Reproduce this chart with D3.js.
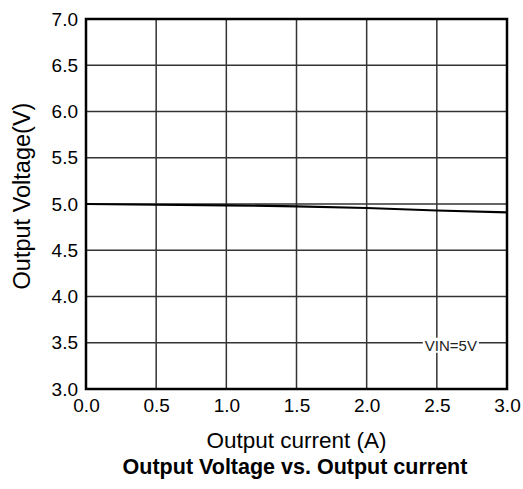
<!DOCTYPE html>
<html><head><meta charset="utf-8">
<script src="https://cdn.jsdelivr.net/npm/d3@7"></script>
<style>body{margin:0;background:#fff}svg{display:block;font-family:"Liberation Sans",Arial,sans-serif}</style>
</head><body>
<script>
const currents = [0.0, 0.5, 1.0, 1.5, 2.0, 2.5, 3.0];
const voltages = [5.0, 4.992, 4.986, 4.975, 4.957, 4.930, 4.910];
const xTicks = [0.0, 0.5, 1.0, 1.5, 2.0, 2.5, 3.0];
const yTicks = [3.0, 3.5, 4.0, 4.5, 5.0, 5.5, 6.0, 6.5, 7.0];
const xTitle = "Output current (A)";
const yTitle = "Output Voltage(V)";
const chartTitle = "Output Voltage vs. Output current";
const annotation = "VIN=5V";

const W = 523, H = 489;
const m = {left: 86, top: 19, right: 16, bottom: 100};
const svg = d3.select("body").append("svg").attr("width", W).attr("height", H);
const x = d3.scaleLinear().domain([0, 3]).range([m.left, W - m.right]);
const y = d3.scaleLinear().domain([3, 7]).range([H - m.bottom, m.top]);

// grid
svg.append("g").selectAll("line").data(xTicks.slice(1, -1)).join("line")
  .attr("x1", d => x(d)).attr("x2", d => x(d)).attr("y1", y(3)).attr("y2", y(7))
  .attr("stroke", "#333").attr("stroke-width", 1.5);
svg.append("g").selectAll("line").data(yTicks.slice(1, -1)).join("line")
  .attr("x1", x(0)).attr("x2", x(3)).attr("y1", d => y(d)).attr("y2", d => y(d))
  .attr("stroke", "#333").attr("stroke-width", 1.5);

// annotation
const ann = svg.append("text").attr("x", x(2.6)).attr("y", y(3.5) + 8)
  .attr("text-anchor", "middle").attr("font-size", 15).attr("fill", "#222").text(annotation);
const bb = ann.node().getBBox();
svg.insert("rect", "text").attr("x", bb.x - 2).attr("y", bb.y + 1).attr("width", bb.width + 4).attr("height", bb.height - 2).attr("fill", "#fff");

// line
svg.append("path").datum(currents.map((c, i) => [c, voltages[i]]))
  .attr("d", d3.line().x(d => x(d[0])).y(d => y(d[1])))
  .attr("fill", "none").attr("stroke", "#000").attr("stroke-width", 2.2);

// frame
svg.append("rect").attr("x", x(0)).attr("y", y(7)).attr("width", x(3) - x(0)).attr("height", y(3) - y(7))
  .attr("fill", "none").attr("stroke", "#000").attr("stroke-width", 2.5);

// axes labels
const fmt = d3.format(".1f");
const xAxis = d3.axisBottom(x).tickValues(xTicks).tickFormat(fmt).tickSize(0).tickPadding(10);
const gx = svg.append("g").attr("transform", `translate(0,${y(3)})`).call(xAxis);
gx.select(".domain").remove();
gx.selectAll("text").attr("font-size", 19).attr("fill", "#000").attr("font-family", "Liberation Sans, Arial, sans-serif");
const yAxis = d3.axisLeft(y).tickValues(yTicks).tickFormat(fmt).tickSize(0).tickPadding(8);
const gy = svg.append("g").attr("transform", `translate(${x(0)},0)`).call(yAxis);
gy.select(".domain").remove();
gy.selectAll("text").attr("font-size", 19).attr("fill", "#000").attr("font-family", "Liberation Sans, Arial, sans-serif");

svg.append("text").attr("x", (x(0) + x(3)) / 2).attr("y", 448).attr("text-anchor", "middle")
  .attr("font-size", 22.5).text(xTitle);
svg.append("text").attr("transform", `translate(30,196) rotate(-90)`).attr("text-anchor", "middle")
  .attr("font-size", 23.5).text(yTitle);
svg.append("text").attr("x", 295).attr("y", 474).attr("text-anchor", "middle")
  .attr("font-size", 21.5).attr("font-weight", "bold").text(chartTitle);
</script>
</body></html>
